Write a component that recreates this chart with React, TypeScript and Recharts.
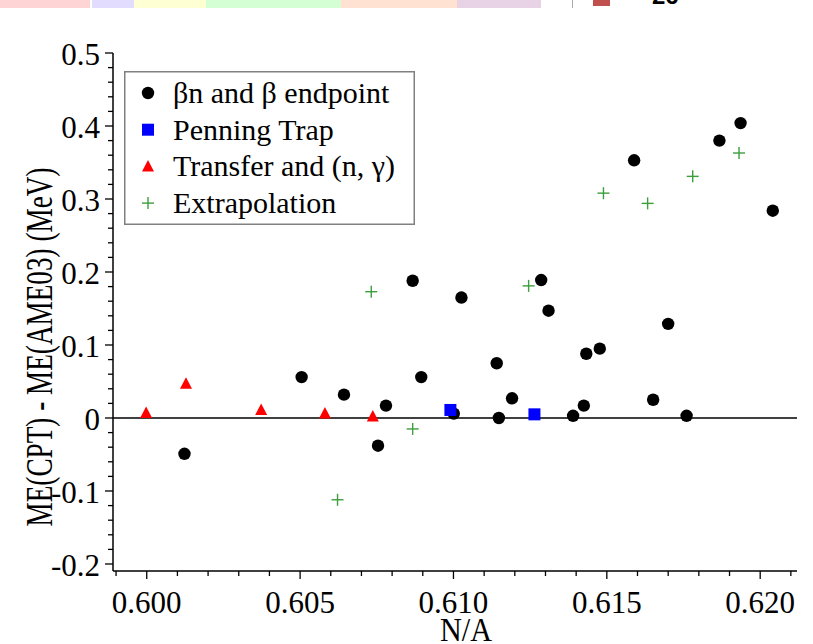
import React from "react";
import {
  ScatterChart,
  Scatter,
  XAxis,
  YAxis,
  ReferenceLine,
  Legend,
} from "recharts";

document.body.style.margin = "0";

const FONT = "'Liberation Serif', 'Times New Roman', serif";

// values: x = N/A, y = ME(CPT) - ME(AME03) in MeV
const BETA_N = [
  { x: 0.60123, y: -0.049 },
  { x: 0.60505, y: 0.056 },
  { x: 0.60643, y: 0.032 },
  { x: 0.60754, y: -0.038 },
  { x: 0.6078, y: 0.017 },
  { x: 0.60867, y: 0.188 },
  { x: 0.60895, y: 0.056 },
  { x: 0.61001, y: 0.006 },
  { x: 0.61026, y: 0.165 },
  { x: 0.61141, y: 0.075 },
  { x: 0.61148, y: 0.0 },
  { x: 0.61191, y: 0.027 },
  { x: 0.61286, y: 0.189 },
  { x: 0.6131, y: 0.147 },
  { x: 0.6139, y: 0.003 },
  { x: 0.61425, y: 0.017 },
  { x: 0.61433, y: 0.088 },
  { x: 0.61477, y: 0.095 },
  { x: 0.61589, y: 0.353 },
  { x: 0.61651, y: 0.025 },
  { x: 0.617, y: 0.129 },
  { x: 0.6176, y: 0.003 },
  { x: 0.61867, y: 0.38 },
  { x: 0.61936, y: 0.404 },
  { x: 0.62041, y: 0.284 },
];

const PENNING = [
  { x: 0.6099, y: 0.011 },
  { x: 0.61264, y: 0.005 },
];

const TRANSFER = [
  { x: 0.59998, y: 0.007 },
  { x: 0.60128, y: 0.047 },
  { x: 0.60373, y: 0.011 },
  { x: 0.60581, y: 0.006 },
  { x: 0.60737, y: 0.002 },
];

const EXTRAP = [
  { x: 0.60622, y: -0.112 },
  { x: 0.60732, y: 0.173 },
  { x: 0.60867, y: -0.015 },
  { x: 0.61245, y: 0.181 },
  { x: 0.61489, y: 0.308 },
  { x: 0.61633, y: 0.294 },
  { x: 0.6178, y: 0.331 },
  { x: 0.61931, y: 0.363 },
];

const X_LABELS = [0.6, 0.605, 0.61, 0.615, 0.62];
const Y_LABELS = [-0.2, -0.1, 0, 0.1, 0.2, 0.3, 0.4, 0.5];

const X_DOMAIN = [0.5989, 0.6212];
const Y_DOMAIN = [-0.2096, 0.5];

// minor tick positions (0.001 on x, 0.02 on y)
const X_TICKS = Array.from({ length: 23 }, (_, i) => +(0.599 + i * 0.001).toFixed(3));
const Y_TICKS = Array.from({ length: 36 }, (_, i) => +(-0.2 + i * 0.02).toFixed(2));

const SERIES = [
  { name: "βn and β endpoint", data: BETA_N, kind: "circle" },
  { name: "Penning Trap", data: PENNING, kind: "square" },
  { name: "Transfer and (n, γ)", data: TRANSFER, kind: "triangle" },
  { name: "Extrapolation", data: EXTRAP, kind: "plus" },
];

const isLabel = (v: number, list: number[]) =>
  list.some((l) => Math.abs(l - v) < 1e-6);

const Marker = ({ kind, cx, cy }: { kind: string; cx: number; cy: number }) => {
  if (kind === "circle") {
    return <circle cx={cx} cy={cy} r={6.2} fill="#000" />;
  }
  if (kind === "square") {
    return <rect x={cx - 6} y={cy - 6} width={12} height={12} fill="#0000ff" />;
  }
  if (kind === "triangle") {
    return (
      <polygon
        points={`${cx},${cy - 6.5} ${cx - 6},${cy + 5} ${cx + 6},${cy + 5}`}
        fill="#ff0000"
      />
    );
  }
  return (
    <g stroke="#3c9e3c" strokeWidth={1.4}>
      <line x1={cx - 6} y1={cy} x2={cx + 6} y2={cy} />
      <line x1={cx} y1={cy - 6} x2={cx} y2={cy + 6} />
    </g>
  );
};

const XTick = (props: any) => {
  const { x, y, payload } = props;
  const major = isLabel(payload.value, X_LABELS);
  return (
    <g>
      <line x1={x} y1={y} x2={x} y2={y + (major ? 8 : 5)} stroke="#000" strokeWidth={1.3} />
      {major && (
        <text x={x} y={y + 42} textAnchor="middle" fontSize={31} fontFamily={FONT} fill="#000">
          {payload.value.toFixed(3)}
        </text>
      )}
    </g>
  );
};

const YTick = (props: any) => {
  const { x, y, payload } = props;
  const major = isLabel(payload.value, Y_LABELS);
  const v = payload.value;
  return (
    <g>
      <line x1={x} y1={y} x2={x - (major ? 8 : 5)} y2={y} stroke="#000" strokeWidth={1.3} />
      {major && (
        <text x={x - 13} y={y + 12} textAnchor="end" fontSize={31} fontFamily={FONT} fill="#000">
          {Math.abs(v) < 1e-9 ? "0" : v.toFixed(1)}
        </text>
      )}
    </g>
  );
};

const LegendBox = () => (
  <svg width={291} height={154} style={{ display: "block" }}>
    <rect x={0.75} y={0.75} width={289.5} height={152.5} fill="#fff" stroke="#808080" strokeWidth={1.5} />
    {SERIES.map((s, i) => (
      <g key={s.name}>
        <Marker kind={s.kind} cx={24} cy={22 + i * 36.7} />
        <text x={49} y={32 + i * 36.7} fontSize={30} fontFamily={FONT} fill="#000">
          {s.name}
        </text>
      </g>
    ))}
  </svg>
);

const BANDS = [
  { left: 0, width: 90, color: "#ffd4d4" },
  { left: 92, width: 42, color: "#e2dcff" },
  { left: 134, width: 72, color: "#ffffd4" },
  { left: 206, width: 135, color: "#d4ffd4" },
  { left: 341, width: 116, color: "#ffe2d2" },
  { left: 457, width: 84, color: "#e8d2e6" },
];

export default function App() {
  return (
    <div style={{ position: "relative", width: 813, height: 644, background: "#fff" }}>
      <ScatterChart
        width={813}
        height={644}
        margin={{ top: 53, right: 16, bottom: 0, left: 0 }}
      >
        <XAxis
          type="number"
          dataKey="x"
          domain={X_DOMAIN}
          allowDataOverflow
          ticks={X_TICKS}
          interval={0}
          tickLine={false}
          tickSize={0}
          tickMargin={0}
          tick={<XTick />}
          height={73}
          axisLine={{ stroke: "#000", strokeWidth: 1.5 }}
          label={{
            content: () => (
              <text
                x={466}
                y={641}
                textAnchor="middle"
                fontSize={33}
                fontFamily={FONT}
                textLength={52}
                lengthAdjust="spacingAndGlyphs"
                fill="#000"
              >
                N/A
              </text>
            ),
          }}
        />
        <YAxis
          type="number"
          dataKey="y"
          domain={Y_DOMAIN}
          allowDataOverflow
          ticks={Y_TICKS}
          interval={0}
          tickLine={false}
          tickSize={0}
          tickMargin={0}
          tick={<YTick />}
          width={113}
          axisLine={{ stroke: "#000", strokeWidth: 1.5 }}
          label={{
            content: () => (
              <text
                transform="translate(52,347) rotate(-90)"
                textAnchor="middle"
                fontSize={37}
                fontFamily={FONT}
                textLength={359}
                lengthAdjust="spacingAndGlyphs"
                fill="#000"
              >
                ME(CPT) - ME(AME03) (MeV)
              </text>
            ),
          }}
        />
        <ReferenceLine y={0} stroke="#000" strokeWidth={1.5} />
        {SERIES.map((s) => (
          <Scatter
            key={s.name}
            name={s.name}
            data={s.data}
            isAnimationActive={false}
            shape={(p: any) => <Marker kind={s.kind} cx={p.cx} cy={p.cy} />}
          />
        ))}
        <Legend
          layout="vertical"
          align="center"
          verticalAlign="middle"
          content={() => <LegendBox />}
          wrapperStyle={{ left: 124, top: 71, width: 291, height: 154 }}
        />
      </ScatterChart>

      {/* cropped strip of the neighbouring figure at the top edge */}
      <div style={{ position: "absolute", left: 0, top: 0, width: 813, height: 8, overflow: "hidden" }}>
        {BANDS.map((b) => (
          <div
            key={b.left}
            style={{ position: "absolute", left: b.left, top: 0, width: b.width, height: 8, background: b.color }}
          />
        ))}
        <div style={{ position: "absolute", left: 572, top: 0, width: 1, height: 8, background: "#aaa" }} />
        <div style={{ position: "absolute", left: 593, top: 0, width: 17, height: 6, background: "#c0504d" }} />
        <div
          style={{
            position: "absolute",
            left: 652,
            top: -18,
            fontFamily: "Arial, sans-serif",
            fontWeight: "bold",
            fontSize: 24,
          }}
        >
          26
        </div>
      </div>
    </div>
  );
}
